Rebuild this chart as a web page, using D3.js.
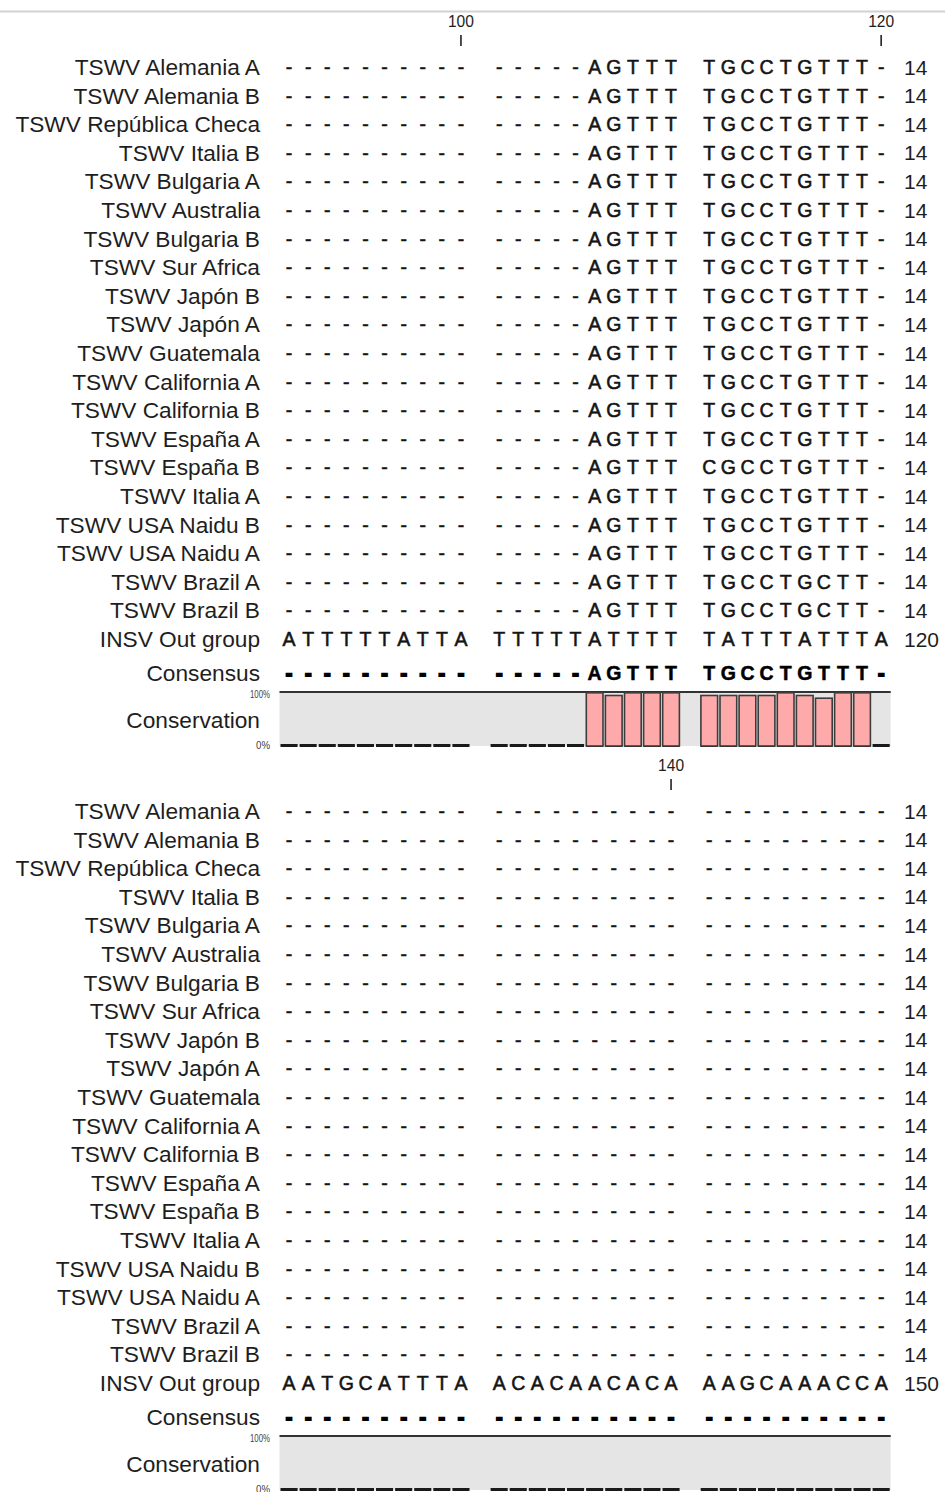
<!DOCTYPE html>
<html>
<head>
<meta charset="utf-8">
<script src="https://cdn.jsdelivr.net/npm/d3@7/dist/d3.min.js"></script>
<style>
  html, body { margin: 0; padding: 0; background: #fff; }
  svg { display: block; }
</style>
</head>
<body>
<svg id="chart" width="945" height="1492"></svg>
<script>
// ---------------- DATA ----------------
const names = [
  "TSWV Alemania A", "TSWV Alemania B", "TSWV República Checa", "TSWV Italia B",
  "TSWV Bulgaria A", "TSWV Australia", "TSWV Bulgaria B", "TSWV Sur Africa",
  "TSWV Japón B", "TSWV Japón A", "TSWV Guatemala", "TSWV California A",
  "TSWV California B", "TSWV España A", "TSWV España B", "TSWV Italia A",
  "TSWV USA Naidu B", "TSWV USA Naidu A", "TSWV Brazil A", "TSWV Brazil B",
  "INSV Out group"
];

// alignment columns 91-120
const seqBlock1 = [
  "---------------AGTTTTGCCTGTTT-",
  "---------------AGTTTTGCCTGTTT-",
  "---------------AGTTTTGCCTGTTT-",
  "---------------AGTTTTGCCTGTTT-",
  "---------------AGTTTTGCCTGTTT-",
  "---------------AGTTTTGCCTGTTT-",
  "---------------AGTTTTGCCTGTTT-",
  "---------------AGTTTTGCCTGTTT-",
  "---------------AGTTTTGCCTGTTT-",
  "---------------AGTTTTGCCTGTTT-",
  "---------------AGTTTTGCCTGTTT-",
  "---------------AGTTTTGCCTGTTT-",
  "---------------AGTTTTGCCTGTTT-",
  "---------------AGTTTTGCCTGTTT-",
  "---------------AGTTTCGCCTGTTT-",
  "---------------AGTTTTGCCTGTTT-",
  "---------------AGTTTTGCCTGTTT-",
  "---------------AGTTTTGCCTGTTT-",
  "---------------AGTTTTGCCTGCTT-",
  "---------------AGTTTTGCCTGCTT-",
  "ATTTTTATTATTTTTATTTTTATTTATTTA"
];
// alignment columns 121-150
const seqBlock2 = [
  "------------------------------",
  "------------------------------",
  "------------------------------",
  "------------------------------",
  "------------------------------",
  "------------------------------",
  "------------------------------",
  "------------------------------",
  "------------------------------",
  "------------------------------",
  "------------------------------",
  "------------------------------",
  "------------------------------",
  "------------------------------",
  "------------------------------",
  "------------------------------",
  "------------------------------",
  "------------------------------",
  "------------------------------",
  "------------------------------",
  "AATGCATTTAACACAACACAAAGCAAACCA"
];
const endCounts1 = [14,14,14,14,14,14,14,14,14,14,14,14,14,14,14,14,14,14,14,14,120];
const endCounts2 = [14,14,14,14,14,14,14,14,14,14,14,14,14,14,14,14,14,14,14,14,150];

const consensus1 = "---------------AGTTTTGCCTGTTT-";
const consensus2 = "------------------------------";

const conservation1 = [0,0,0,0,0,0,0,0,0,0, 0,0,0,0,0,100,95,100,100,100, 95,95,95,95,100,95,90,100,100,0];
const conservation2 = [0,0,0,0,0,0,0,0,0,0, 0,0,0,0,0,0,0,0,0,0, 0,0,0,0,0,0,0,0,0,0];

const blockStarts = [91, 121];
const tickValues = [100, 120, 140];

const blocks = [
  { start: blockStarts[0], seqs: seqBlock1, ends: endCounts1, consensus: consensus1, cons: conservation1 },
  { start: blockStarts[1], seqs: seqBlock2, ends: endCounts2, consensus: consensus2, cons: conservation2 }
];

// ---------------- LAYOUT ----------------
const svg = d3.select("#chart");
const blockHeight = 744;
const colW = 19.1;
const nCols = 30;
const slotOf = i => i + Math.floor(i / 10);
const x = d3.scaleLinear().domain([0, 32]).range([279.5, 279.5 + 32 * colW]);
const xc = i => x(slotOf(i) + 0.5);

const labelFont = "'Liberation Sans', Arial, Helvetica, sans-serif";
const textColor = "#1e1e1e";

// top divider
svg.append("line")
  .attr("x1", 0).attr("x2", 945).attr("y1", 11.5).attr("y2", 11.5)
  .attr("stroke", "#d2d2d2").attr("stroke-width", 2);

blocks.forEach((b, bi) => {
  const top = bi * blockHeight;
  const g = svg.append("g").attr("transform", `translate(0,${top})`);
  const y = d3.scalePoint().domain(names).range([67, 639]);
  const consY = 673;
  const cy = d3.scaleLinear().domain([0, 100]).range([746, 692]);

  // ticks
  const ticks = tickValues.filter(t => t >= b.start && t < b.start + nCols);
  const tg = g.selectAll(".tick").data(ticks).enter().append("g");
  tg.append("text")
    .attr("x", t => xc(t - b.start)).attr("y", 21)
    .attr("text-anchor", "middle").attr("dominant-baseline", "central")
    .attr("font-family", labelFont)
    .attr("font-size", 16.5).attr("fill", textColor)
    .attr("textLength", 26).attr("lengthAdjust", "spacingAndGlyphs")
    .text(t => t);
  tg.append("line")
    .attr("x1", t => xc(t - b.start)).attr("x2", t => xc(t - b.start))
    .attr("y1", 35).attr("y2", 46)
    .attr("stroke", "#222").attr("stroke-width", 1.6);

  // names
  g.selectAll(".name").data(names).enter().append("text")
    .attr("x", 260).attr("y", d => y(d))
    .attr("text-anchor", "end").attr("dominant-baseline", "central")
    .attr("font-family", labelFont).attr("font-size", 22.7).attr("fill", textColor)
    .text(d => d);

  // residues
  names.forEach((n, ri) => {
    const chars = b.seqs[ri].split("");
    g.append("g").selectAll("text").data(chars).enter().append("text")
      .attr("x", (c, i) => xc(i)).attr("y", y(n))
      .attr("text-anchor", "middle").attr("dominant-baseline", "central")
      .attr("font-family", labelFont).attr("font-size", 19.5)
      .attr("fill", "#141414")
      .attr("stroke", "#141414").attr("stroke-width", 0.55)
      .text(c => c);
    g.append("text")
      .attr("x", 904).attr("y", y(n))
      .attr("dominant-baseline", "central")
      .attr("font-family", labelFont).attr("font-size", 21).attr("fill", textColor)
      .text(b.ends[ri]);
  });

  // consensus
  g.append("text").attr("x", 260).attr("y", consY)
    .attr("text-anchor", "end").attr("dominant-baseline", "central")
    .attr("font-family", labelFont).attr("font-size", 22.7).attr("fill", textColor)
    .text("Consensus");
  g.append("g").selectAll("text").data(b.consensus.split("")).enter().append("text")
    .attr("x", (c, i) => xc(i)).attr("y", consY)
    .attr("text-anchor", "middle").attr("dominant-baseline", "central")
    .attr("font-family", labelFont).attr("font-size", 19.5).attr("font-weight", "bold")
    .attr("fill", "#000").attr("stroke", "#000").attr("stroke-width", c => c === "-" ? 1.8 : 0.5)
    .text(c => c);

  // conservation
  g.append("text").attr("x", 260).attr("y", 720)
    .attr("text-anchor", "end").attr("dominant-baseline", "central")
    .attr("font-family", labelFont).attr("font-size", 22.7).attr("fill", textColor)
    .text("Conservation");
  g.append("text").attr("x", 270).attr("y", cy(100) + 2)
    .attr("text-anchor", "end").attr("dominant-baseline", "central")
    .attr("font-family", labelFont)
    .attr("font-size", 11).attr("fill", "#444")
    .attr("textLength", 20).attr("lengthAdjust", "spacingAndGlyphs").text("100%");
  g.append("text").attr("x", 270).attr("y", cy(0) - 1)
    .attr("text-anchor", "end").attr("dominant-baseline", "central")
    .attr("font-family", labelFont)
    .attr("font-size", 11).attr("fill", "#444")
    .attr("textLength", 14).attr("lengthAdjust", "spacingAndGlyphs").text("0%");

  g.append("rect")
    .attr("x", x(0)).attr("y", cy(100))
    .attr("width", x(32) - x(0)).attr("height", cy(0) - cy(100))
    .attr("fill", "#e5e5e5");
  g.append("line")
    .attr("x1", x(0)).attr("x2", x(32)).attr("y1", cy(100)).attr("y2", cy(100))
    .attr("stroke", "#333").attr("stroke-width", 2);

  const consData = b.cons.map((v, i) => ({ v, i }));
  // baseline segments for every column
  g.append("g").selectAll("line").data(consData).enter().append("line")
    .attr("x1", d => x(slotOf(d.i)) + 1).attr("x2", d => x(slotOf(d.i) + 1) - 1)
    .attr("y1", cy(0) - 0.5).attr("y2", cy(0) - 0.5)
    .attr("stroke", "#1a1a1a").attr("stroke-width", 3);
  // bars
  g.append("g").selectAll("rect").data(consData.filter(d => d.v > 0)).enter().append("rect")
    .attr("x", d => x(slotOf(d.i)) + 1.2)
    .attr("width", colW - 2.4)
    .attr("y", d => cy(d.v) + 0.8)
    .attr("height", d => cy(0) - cy(d.v) - 0.8)
    .attr("fill", "#ffaaaa")
    .attr("stroke", "#3c3c3c").attr("stroke-width", 1.6);
});
</script>
</body>
</html>
